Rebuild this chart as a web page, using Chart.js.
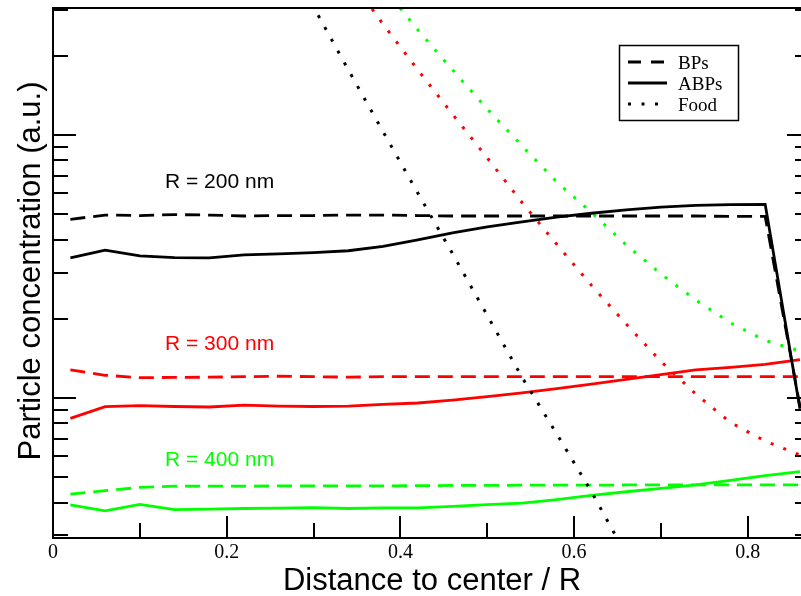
<!DOCTYPE html>
<html>
<head>
<meta charset="utf-8">
<script src="https://cdn.jsdelivr.net/npm/chart.js@4"></script>
<style>
  html, body { margin: 0; padding: 0; background: #fff; overflow: hidden; }
  #wrap { width: 811px; height: 596px; }
</style>
</head>
<body>
<div id="wrap"><canvas id="chart" width="811" height="596"></canvas></div>
<script>
// ===================================
// DATA
// ===================================

// distance to center / R
const xs = [0.02, 0.06, 0.10, 0.14, 0.18, 0.22, 0.26, 0.30, 0.34, 0.38, 0.42,
            0.46, 0.50, 0.54, 0.58, 0.62, 0.66, 0.70, 0.74, 0.78, 0.82, 0.86];

// R = 200 nm
const bp200   = [4.78, 4.96, 4.94, 4.98, 4.96, 4.92, 4.94, 4.94, 4.96, 4.96, 4.94,
                 4.92, 4.92, 4.92, 4.92, 4.92, 4.92, 4.92, 4.92, 4.90, 4.90, 0.93];
const abp200  = [3.41, 3.65, 3.47, 3.42, 3.41, 3.50, 3.53, 3.57, 3.63, 3.77, 3.99,
                 4.24, 4.47, 4.67, 4.87, 5.04, 5.19, 5.32, 5.40, 5.44, 5.45, 0.91];
const food200 = [null, null, null, null, null, null, 53.0, 30.7, 17.7, 10.3, 6.02,
                 3.54, 2.06, 1.20, 0.73, 0.44, 0.253, null, null, null, null, null];

// R = 300 nm
const bp300   = [1.28, 1.22, 1.195, 1.197, 1.20, 1.205, 1.21, 1.205, 1.20, 1.205, 1.205,
                 1.205, 1.205, 1.205, 1.205, 1.205, 1.205, 1.205, 1.205, 1.205, 1.205, 1.205];
const abp300  = [0.837, 0.927, 0.935, 0.928, 0.924, 0.940, 0.932, 0.928, 0.932, 0.945, 0.957,
                 0.982, 1.012, 1.045, 1.086, 1.13, 1.177, 1.228, 1.278, 1.308, 1.342, 1.40];
const food300 = [null, null, null, null, null, null, null, null, 40.2, 26.4, 17.7,
                 12.0, 8.18, 5.54, 3.84, 2.68, 1.91, 1.377, 1.036, 0.807, 0.686, 0.607];

// R = 400 nm
const bp400   = [0.431, 0.444, 0.457, 0.462, 0.462, 0.462, 0.463, 0.463, 0.463, 0.463, 0.464,
                 0.465, 0.465, 0.466, 0.466, 0.466, 0.467, 0.467, 0.467, 0.467, 0.467, 0.467];
const abp400  = [0.392, 0.372, 0.394, 0.376, 0.378, 0.380, 0.381, 0.383, 0.380, 0.382, 0.382,
                 0.387, 0.393, 0.398, 0.411, 0.426, 0.440, 0.453, 0.467, 0.486, 0.507, 0.525];
const food400 = [null, null, null, null, null, null, null, null, null, 36.5, 25.1,
                 17.67, 12.55, 9.09, 6.63, 5.07, 3.82, 2.96, 2.36, 1.93, 1.654, 1.509];

// axis ticks
const xTicks = [0, 0.1, 0.2, 0.3, 0.4, 0.5, 0.6, 0.7, 0.8];
const xTickLabels = ["0", "", "0.2", "", "0.4", "", "0.6", "", "0.8"];
const yTicks = [0.3, 0.4, 0.5, 0.6, 0.7, 0.8, 0.9, 1, 2, 3, 4, 5, 6, 7, 8, 9, 10, 20, 30];
const yMajor = [1, 10];

const legendLabels = ["BPs", "ABPs", "Food"];
const radiusLabels = ["R = 200 nm", "R = 300 nm", "R = 400 nm"];

const BLACK = "#000000";
const RED = "#ff0000";
const GREEN = "#00ff00";

// ===================================
// HELPERS
// ===================================
const DASH = [15, 8];
const DOTS = [3, 10.5];

function series(label, values, color, dash) {
  return {
    label,
    data: xs.map((x, i) => ({ x, y: values[i] })),
    borderColor: color,
    backgroundColor: color,
    borderWidth: dash === DOTS ? 3 : 2.8,
    borderDash: dash,
    borderCapStyle: "butt",
    pointRadius: 0,
    tension: 0,
    fill: false,
    spanGaps: false
  };
}

// frame, inward ticks, titles, labels and legend
const decor = {
  id: "decor",
  afterDraw(chart) {
    const { ctx, chartArea: a, scales: { x, y } } = chart;
    ctx.save();

    ctx.strokeStyle = "#000";
    ctx.lineWidth = 2;
    ctx.beginPath();
    ctx.rect(a.left, a.top, a.right - a.left, a.bottom - a.top);

    yTicks.forEach(v => {
      const py = Math.round(y.getPixelForValue(v));
      const len = yMajor.includes(v) ? 23 : 15;
      ctx.moveTo(a.left, py); ctx.lineTo(a.left + len, py);
      ctx.moveTo(a.right, py); ctx.lineTo(a.right - len, py);
    });
    xTicks.forEach((v, i) => {
      const px = Math.round(x.getPixelForValue(v));
      const len = i % 2 === 0 ? 22 : 15;
      ctx.moveTo(px, a.bottom); ctx.lineTo(px, a.bottom - len);
    });
    ctx.stroke();

    // axis titles
    ctx.fillStyle = "#000";
    ctx.font = '31px "Liberation Sans", Arial, sans-serif';
    ctx.textAlign = "center";
    ctx.textBaseline = "alphabetic";
    ctx.fillText("Distance to center / R", 432, 590);
    ctx.save();
    ctx.translate(40, 271);
    ctx.rotate(-Math.PI / 2);
    ctx.fillText("Particle concentration (a.u.)", 0, 0);
    ctx.restore();

    // R labels
    ctx.textAlign = "left";
    ctx.font = '21px "Liberation Sans", Arial, sans-serif';
    [[BLACK, 188], [RED, 350], [GREEN, 466]].forEach(([c, by], i) => {
      ctx.fillStyle = c;
      ctx.fillText(radiusLabels[i], 165, by);
    });

    // legend box
    ctx.lineWidth = 1.5;
    ctx.strokeStyle = "#000";
    ctx.setLineDash([]);
    ctx.strokeRect(619.5, 45.5, 119, 75);
    const dashes = [[13, 10], [], [3, 10.5]];
    const rows = [62, 83, 104];
    ctx.font = '19px "Liberation Serif", "Times New Roman", serif';
    ctx.fillStyle = "#000";
    rows.forEach((ry, i) => {
      ctx.setLineDash(dashes[i]);
      ctx.lineWidth = i === 2 ? 3 : 2.8;
      ctx.beginPath();
      ctx.moveTo(628, ry); ctx.lineTo(667, ry);
      ctx.stroke();
      ctx.fillText(legendLabels[i], 678, ry + 6.5);
    });
    ctx.restore();
  }
};

// ===================================
// CHART
// ===================================
const ctx = document.getElementById("chart").getContext("2d");

new Chart(ctx, {
  type: "line",
  data: {
    datasets: [
      series("BPs 200", bp200, BLACK, DASH),
      series("ABPs 200", abp200, BLACK, []),
      series("Food 200", food200, BLACK, DOTS),
      series("BPs 300", bp300, RED, DASH),
      series("ABPs 300", abp300, RED, []),
      series("Food 300", food300, RED, DOTS),
      series("BPs 400", bp400, GREEN, DASH),
      series("ABPs 400", abp400, GREEN, []),
      series("Food 400", food400, GREEN, DOTS)
    ]
  },
  options: {
    responsive: false,
    animation: false,
    devicePixelRatio: 1,
    layout: { padding: { top: 8, right: 1, left: 0, bottom: 0 } },
    plugins: { legend: { display: false }, tooltip: { enabled: false } },
    scales: {
      x: {
        type: "linear",
        min: 0,
        max: 0.8716,
        grid: { display: false, drawTicks: false },
        border: { display: false },
        afterBuildTicks: s => { s.ticks = xTicks.map(v => ({ value: v })); },
        afterFit: s => { s.height = 58; },
        ticks: {
          autoSkip: false,
          maxRotation: 0,
          padding: 3,
          color: "#000",
          font: { family: '"Liberation Serif", "Times New Roman", serif', size: 20 },
          callback: (v, i) => xTickLabels[i]
        }
      },
      y: {
        type: "logarithmic",
        min: 0.2935,
        max: 30.4,
        grid: { display: false, drawTicks: false },
        border: { display: false },
        afterBuildTicks: s => { s.ticks = yTicks.map(v => ({ value: v })); },
        afterFit: s => { s.width = 53; },
        ticks: { display: false }
      }
    }
  },
  plugins: [decor]
});
</script>
</body>
</html>
